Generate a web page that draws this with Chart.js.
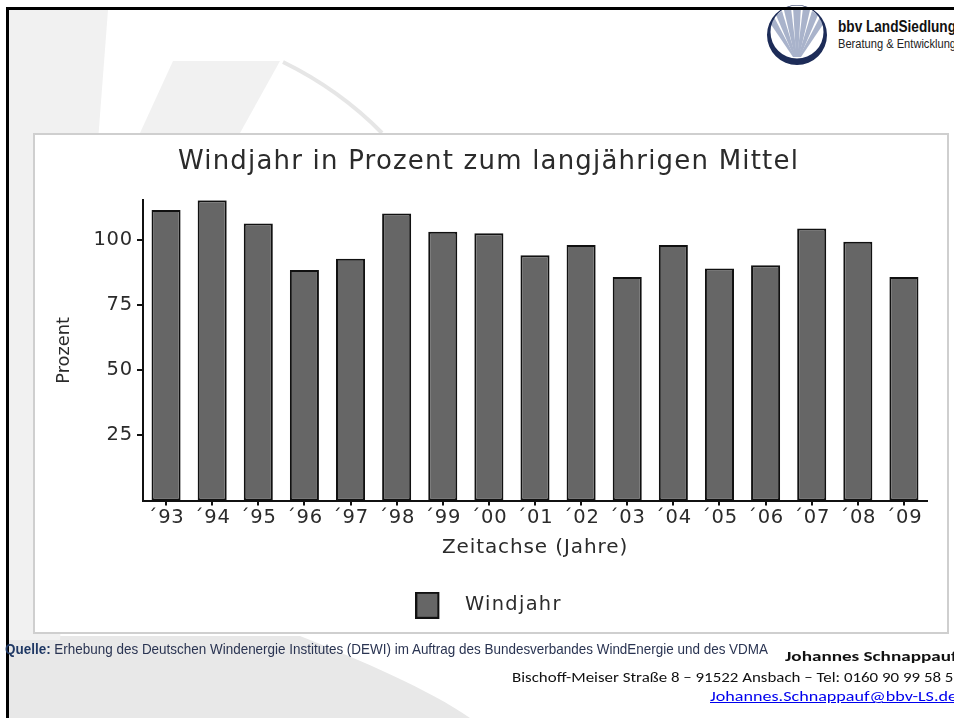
<!DOCTYPE html>
<html>
<head>
<meta charset="utf-8">
<script src="https://cdn.jsdelivr.net/npm/chart.js@4/dist/chart.umd.min.js"></script>
<style>
  html, body { margin: 0; padding: 0; background: #fff; }
  body { width: 954px; height: 718px; position: relative; overflow: hidden; font-family: "Liberation Sans", Arial, sans-serif; }
  #deco { position: absolute; left: 0; top: 0; }
  #frame { position: absolute; left: 6px; top: 7px; width: 1000px; height: 800px; border-left: 3px solid #000; border-top: 3px solid #000; }
  #panel { position: absolute; left: 33px; top: 133px; width: 912px; height: 497px; background: #fff; border: 2px solid #cfcfcf; }
  #chart { position: absolute; left: 0; top: 0; }
  .t { position: absolute; white-space: nowrap; transform-origin: 0 0; line-height: 1; }
</style>
</head>
<body>
<svg id="deco" width="954" height="718" viewBox="0 0 954 718">
  <!-- large faded emblem behind the slide -->
  <path d="M9 636 L9 718 L470 718 C430 690 360 660 300 636 Z" fill="#e8e8e8"/>
  <polygon points="9,10 108,10 60,640 9,640" fill="#f1f1f1"/>
  <polygon points="173,61 280,61 240,133 140,133" fill="#f1f1f1"/>
  <path d="M283 62 Q340 90 382 133" stroke="#e6e6e6" stroke-width="4" fill="none"/>
  <!-- company emblem -->
  <g transform="translate(797,35)">
    <g fill="#a9b3cb">
      <polygon points="-1,22 1,22 4,-28 -4,-28"/>
      <polygon points="-2,22 0,22 -6,-27 -13,-25"/>
      <polygon points="0,22 2,22 13,-25 6,-27"/>
      <polygon points="-3,22 -1,22 -15,-24 -21,-20"/>
      <polygon points="1,22 3,22 21,-20 15,-24"/>
      <polygon points="-4,22 -2,22 -23,-18 -27,-12"/>
      <polygon points="2,22 4,22 27,-12 23,-18"/>
    </g>
    <path fill="#1d2c58" fill-rule="evenodd"
      d="M-30 0 A30 30 0 1 0 30 0 A30 30 0 1 0 -30 0 Z M-26.5 -3 A26.5 26.5 0 1 0 26.5 -3 A26.5 26.5 0 1 0 -26.5 -3 Z"/>
  </g>
</svg>
<div id="frame"></div>
<div id="panel"></div>
<div class="t fit" data-w="118" style="left:838px;top:18px;font-size:17px;font-weight:bold;color:#111;">bbv LandSiedlung</div>
<div class="t fit" data-w="118" style="left:838px;top:38px;font-size:12px;color:#222;">Beratung &amp; Entwicklung</div>
<canvas id="chart" width="954" height="718"></canvas>
<div class="t fit" data-w="763" style="left:5px;top:642px;font-size:14.5px;color:#2a3452;"><b style="color:#1f3864;">Quelle:</b> Erhebung des Deutschen Windenergie Institutes (DEWI) im Auftrag des Bundesverbandes WindEnergie und des VDMA</div>
<div class="t fit" data-w="172" style="left:785px;top:650px;font-size:14px;font-weight:bold;color:#111;font-family:Carlito,Lato,sans-serif;">Johannes Schnappauf</div>
<div class="t fit" data-w="450" style="left:512px;top:671px;font-size:14px;color:#111;font-family:Carlito,Lato,sans-serif;">Bischoff-Meiser Straße 8 – 91522 Ansbach – Tel: 0160 90 99 58 57</div>
<div class="t fit" data-w="247" style="left:710px;top:690px;font-size:14px;color:#0000ee;text-decoration:underline;font-family:Carlito,Lato,sans-serif;">Johannes.Schnappauf@bbv-LS.de</div>

<script>
// Windjahr: wind yield of each year in percent of the long-term mean
const years = ['´93', '´94', '´95', '´96', '´97', '´98', '´99', '´00', '´01',
               '´02', '´03', '´04', '´05', '´06', '´07', '´08', '´09'];
const windjahr = [111.3, 115.1, 106.2, 88.4, 92.7, 110.0, 103.0, 102.4, 94.0,
                  97.9, 85.7, 97.9, 88.9, 90.2, 104.3, 99.2, 85.7];
const yTicks = [25, 50, 75, 100];

// stretch the slide texts to their set widths
document.querySelectorAll('.fit').forEach(el => {
  const w = el.getBoundingClientRect().width;
  el.style.transform = 'scaleX(' + (parseFloat(el.dataset.w) / w) + ')';
});

// legend swatch: grey box with dark outline, padded on the right
const swatch = document.createElement('canvas');
swatch.width = 40; swatch.height = 27;
(function () {
  const c = swatch.getContext('2d');
  c.fillStyle = '#666666';
  c.fillRect(1, 1, 22, 25);
  c.strokeStyle = '#111111';
  c.lineWidth = 2;
  c.strokeRect(1, 1, 22, 25);
})();

const FONT = 'DejaVu Sans';
const INK = '#2b2b2b';
const SIZE = { title: 26, tick: 19.5, xTitle: 20, legend: 19.4, yTitle: 17.8 };

// letter tracking, chosen per font size
const TRACKING = { '26': 1.2, '19.5': 0.8, '20': 0.9, '19.4': 1.3, '17.8': 0 };
const trackingPlugin = {
  id: 'tracking',
  beforeUpdate(chart) {
    const ctx = chart.ctx;
    if (ctx.__tracked) return;
    ctx.__tracked = true;
    const fill = ctx.fillText.bind(ctx);
    const measure = ctx.measureText.bind(ctx);
    const apply = () => {
      const m = /([\d.]+)px/.exec(ctx.font);
      ctx.letterSpacing = ((m && TRACKING[m[1]]) || 0) + 'px';
    };
    ctx.fillText = function (...a) { apply(); return fill(...a); };
    ctx.measureText = function (...a) { apply(); return measure(...a); };
  }
};

new Chart(document.getElementById('chart'), {
  type: 'bar',
  plugins: [trackingPlugin],
  data: {
    labels: years,
    datasets: [{
      label: 'Windjahr',
      data: windjahr,
      backgroundColor: '#666666',
      borderColor: '#111111',
      borderWidth: 2,
      borderSkipped: false,
      categoryPercentage: 1,
      barPercentage: 0.63
    }]
  },
  options: {
    responsive: false,
    animation: false,
    layout: { padding: { left: 50, right: 27, top: 143, bottom: 93 } },
    plugins: {
      title: {
        display: true,
        text: 'Windjahr in Prozent zum langjährigen Mittel',
        color: INK,
        font: { family: FONT, size: SIZE.title, weight: 'normal' },
        padding: { top: 4, bottom: 22 }
      },
      legend: {
        position: 'bottom',
        labels: {
          color: INK,
          font: { family: FONT, size: SIZE.legend },
          usePointStyle: true,
          pointStyle: swatch,
          pointStyleWidth: 40,
          padding: 10
        }
      },
      tooltip: { enabled: false }
    },
    scales: {
      x: {
        afterFit: s => { s.height = 85; },
        grid: { display: true, drawOnChartArea: false, offset: false, tickLength: 5, color: '#111', lineWidth: 2 },
        border: { display: true, color: '#111', width: 2 },
        ticks: { color: INK, font: { family: FONT, size: SIZE.tick }, padding: 1, maxRotation: 0, autoSkip: false },
        title: {
          display: true,
          text: 'Zeitachse (Jahre)',
          color: INK,
          font: { family: FONT, size: SIZE.xTitle },
          padding: { top: 4, bottom: 26 }
        }
      },
      y: {
        min: 0,
        max: Math.max(...windjahr),
        afterFit: s => { s.width = 93; },
        afterBuildTicks: s => { s.ticks = yTicks.map(v => ({ value: v })); },
        grid: { display: true, drawOnChartArea: false, tickLength: 6, color: '#111', lineWidth: 2 },
        border: { display: true, color: '#111', width: 2 },
        ticks: { color: INK, font: { family: FONT, size: SIZE.tick }, padding: 4 },
        title: {
          display: true,
          text: 'Prozent',
          color: INK,
          font: { family: FONT, size: SIZE.yTitle },
          padding: { top: 4, bottom: 4 }
        }
      }
    }
  }
});
</script>
</body>
</html>
